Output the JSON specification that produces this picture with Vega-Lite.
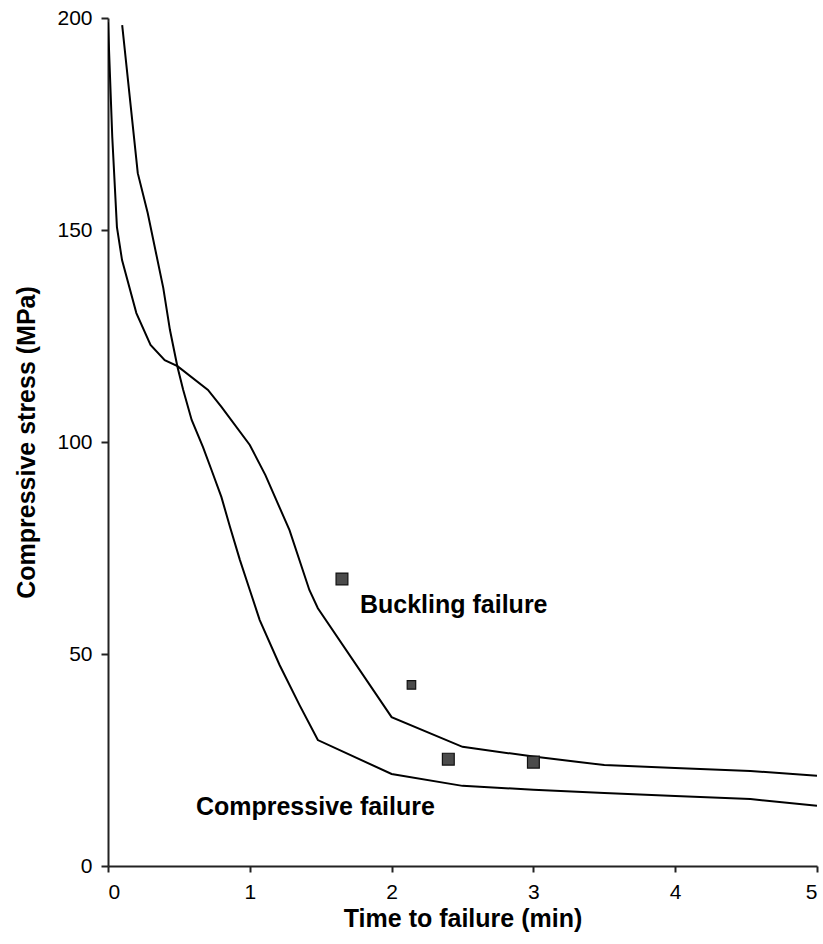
{
  "$schema": "https://vega.github.io/schema/vega-lite/v6.json",
  "width": 709,
  "height": 848,
  "autosize": {"type": "none"},
  "padding": {"left": 108, "top": 18, "right": 6, "bottom": 78},
  "background": "white",
  "config": {
    "view": {"stroke": null},
    "font": "Liberation Sans",
    "axis": {
      "grid": false,
      "domainColor": "#222",
      "domainWidth": 2,
      "tickColor": "#222",
      "tickWidth": 2,
      "labelFont": "Liberation Sans",
      "labelFontSize": 21,
      "labelColor": "#000",
      "titleFont": "Liberation Sans",
      "titleFontSize": 25,
      "titleFontWeight": "bold",
      "titleColor": "#000"
    }
  },
  "datasets": {
    "curves": [
      {"series": "buckling", "t": 0.0, "stress": 199.0},
      {"series": "buckling", "t": 0.03, "stress": 172.0},
      {"series": "buckling", "t": 0.063, "stress": 150.7},
      {"series": "buckling", "t": 0.099, "stress": 142.9},
      {"series": "buckling", "t": 0.2, "stress": 130.4},
      {"series": "buckling", "t": 0.3, "stress": 122.9},
      {"series": "buckling", "t": 0.4, "stress": 119.3},
      {"series": "buckling", "t": 0.49, "stress": 117.9},
      {"series": "buckling", "t": 0.705, "stress": 112.3},
      {"series": "buckling", "t": 0.8, "stress": 108.3},
      {"series": "buckling", "t": 1.0, "stress": 99.3},
      {"series": "buckling", "t": 1.11, "stress": 92.2},
      {"series": "buckling", "t": 1.28, "stress": 79.2},
      {"series": "buckling", "t": 1.42, "stress": 65.1},
      {"series": "buckling", "t": 1.48, "stress": 60.8},
      {"series": "buckling", "t": 2.0, "stress": 35.1},
      {"series": "buckling", "t": 2.5, "stress": 28.1},
      {"series": "buckling", "t": 3.0, "stress": 25.8},
      {"series": "buckling", "t": 3.5, "stress": 23.8},
      {"series": "buckling", "t": 4.0, "stress": 23.1},
      {"series": "buckling", "t": 4.53, "stress": 22.4},
      {"series": "buckling", "t": 5.0, "stress": 21.3},
      {"series": "compressive", "t": 0.1, "stress": 198.3},
      {"series": "compressive", "t": 0.21, "stress": 163.4},
      {"series": "compressive", "t": 0.28, "stress": 154.0},
      {"series": "compressive", "t": 0.39, "stress": 136.3},
      {"series": "compressive", "t": 0.437, "stress": 126.4},
      {"series": "compressive", "t": 0.49, "stress": 117.7},
      {"series": "compressive", "t": 0.53, "stress": 112.3},
      {"series": "compressive", "t": 0.59, "stress": 105.2},
      {"series": "compressive", "t": 0.67, "stress": 98.8},
      {"series": "compressive", "t": 0.73, "stress": 93.4},
      {"series": "compressive", "t": 0.8, "stress": 87.0},
      {"series": "compressive", "t": 0.86, "stress": 80.0},
      {"series": "compressive", "t": 0.93, "stress": 72.2},
      {"series": "compressive", "t": 1.0, "stress": 65.1},
      {"series": "compressive", "t": 1.07, "stress": 58.0},
      {"series": "compressive", "t": 1.21, "stress": 47.4},
      {"series": "compressive", "t": 1.35, "stress": 38.0},
      {"series": "compressive", "t": 1.48, "stress": 29.7},
      {"series": "compressive", "t": 2.0, "stress": 21.7},
      {"series": "compressive", "t": 2.5, "stress": 18.9},
      {"series": "compressive", "t": 3.0, "stress": 18.0},
      {"series": "compressive", "t": 3.5, "stress": 17.2},
      {"series": "compressive", "t": 4.0, "stress": 16.5},
      {"series": "compressive", "t": 4.53, "stress": 15.8},
      {"series": "compressive", "t": 5.0, "stress": 14.2}
    ],
    "tests": [
      {"t": 1.65, "stress": 67.7},
      {"t": 2.14, "stress": 42.7},
      {"t": 2.4, "stress": 25.2},
      {"t": 3.0, "stress": 24.5}
    ],
    "labels": [
      {"t": 1.777, "stress": 59.7, "text": "Buckling failure"},
      {"t": 0.62, "stress": 12.0, "text": "Compressive failure"}
    ]
  },
  "layer": [
    {
      "data": {"name": "curves"},
      "mark": {"type": "line", "color": "#000", "strokeWidth": 2, "clip": true},
      "encoding": {
        "x": {
          "field": "t",
          "type": "quantitative",
          "scale": {"domain": [0, 5], "nice": false, "zero": false},
          "axis": {
            "title": "Time to failure (min)",
            "values": [0, 1, 2, 3, 4, 5],
            "format": "d",
            "tickSize": 6,
            "labelPadding": 9,
            "titlePadding": 4
          }
        },
        "y": {
          "field": "stress",
          "type": "quantitative",
          "scale": {"domain": [0, 200], "nice": false},
          "axis": {
            "title": "Compressive stress (MPa)",
            "values": [0, 50, 100, 150, 200],
            "tickSize": 7,
            "labelPadding": 9,
            "titlePadding": 17
          }
        },
        "detail": {"field": "series"}
      }
    },
    {
      "data": {"name": "tests"},
      "mark": {"type": "square", "filled": true, "color": "#4b4b4b", "stroke": "#111", "strokeWidth": 1.2, "opacity": 1},
      "encoding": {
        "x": {"field": "t", "type": "quantitative"},
        "y": {"field": "stress", "type": "quantitative"},
        "size": {
          "condition": {"test": "datum.t > 2 && datum.t < 2.3", "value": 72},
          "value": 140
        }
      }
    },
    {
      "data": {"name": "labels"},
      "mark": {"type": "text", "align": "left", "baseline": "alphabetic", "font": "Liberation Sans", "fontSize": 25, "fontWeight": "bold", "color": "#000"},
      "encoding": {
        "x": {"field": "t", "type": "quantitative"},
        "y": {"field": "stress", "type": "quantitative"},
        "text": {"field": "text"}
      }
    }
  ]
}
